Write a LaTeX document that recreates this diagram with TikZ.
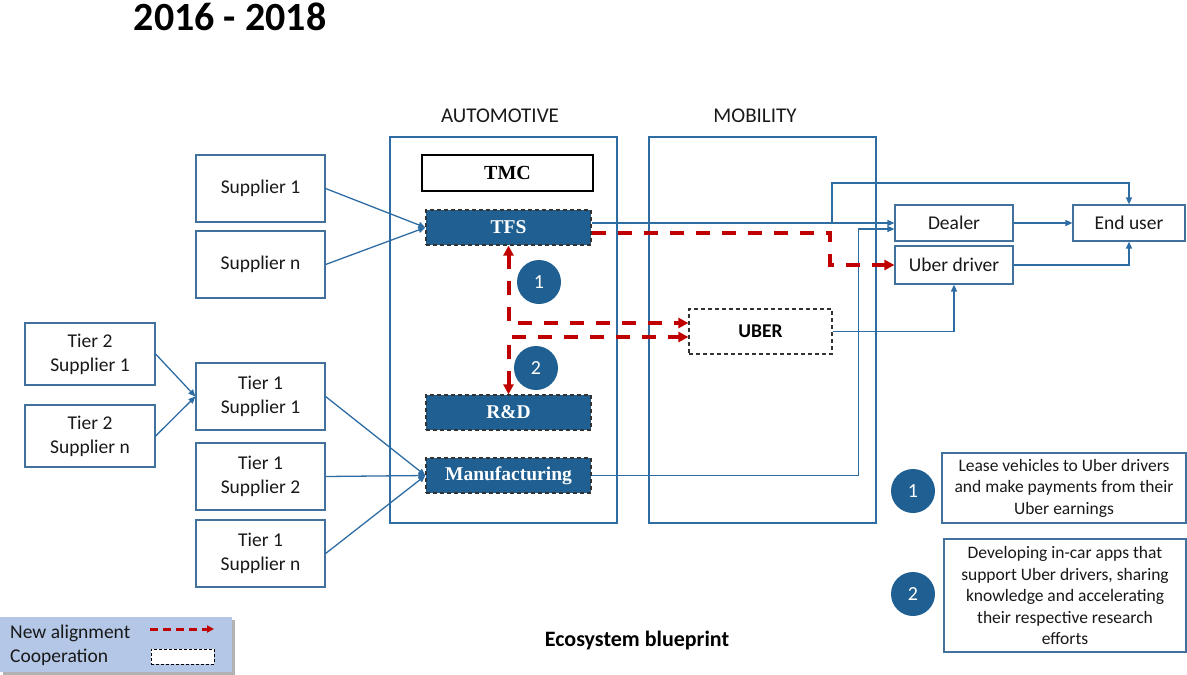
\documentclass[tikz,border=0pt]{standalone}
\usepackage{fontspec}
\setmainfont{Carlito}
\newfontfamily\tnr{Liberation Serif}
\usetikzlibrary{arrows.meta,calc}
\definecolor{lblue}{RGB}{46,108,164}
\definecolor{bblue}{RGB}{65,113,156}
\definecolor{fblue}{RGB}{31,95,145}
\definecolor{rred}{RGB}{192,0,0}
\definecolor{legbg}{RGB}{180,199,231}
\begin{document}
\begin{tikzpicture}[x=1pt,y=-1pt,
  box/.style={draw=bblue, line width=1.2pt, fill=white, inner sep=0pt, align=center,
    font=\fontsize{19.5}{24}\selectfont, text=black!90},
  notebox/.style={draw=bblue, line width=1.2pt, fill=white, inner sep=0pt, align=center,
    font=\fontsize{17.5}{21.5}\selectfont, text=black!90},
  fbox/.style={draw=black!80, dash pattern=on 4pt off 3pt, fill=fblue, line width=1.2pt,
    text=white, font=\tnr\bfseries\fontsize{19.5}{22}\selectfont, inner sep=0pt},
  area/.style={draw=lblue, line width=1.2pt, inner sep=0pt},
  conn/.style={draw=lblue, line width=1.3pt, -{Triangle[length=7pt,width=6pt]}},
  newal/.style={draw=rred, line width=4pt, dash pattern=on 14pt off 12pt,
    -{Triangle[length=10pt,width=10pt]}},
  newal2/.style={draw=rred, line width=4pt, dash pattern=on 14pt off 12pt,
    {Triangle[length=10pt,width=10pt]}-{Triangle[length=10pt,width=10pt]}},
  circ/.style={circle, fill=fblue, minimum size=44pt, inner sep=0pt, text=white,
    font=\fontsize{20}{20}\selectfont},
  lbl/.style={font=\fontsize{21}{24}\selectfont, text=black!90, inner sep=0pt}
]
\useasboundingbox (0,0) rectangle (1187,675);

% title
\node[font=\bfseries\fontsize{40}{40}\selectfont, inner sep=0pt] (title) at (230,17) {2016 - 2018};

% areas
\node[lbl] (autolbl) at (500,116) {AUTOMOTIVE};
\node[lbl] (moblbl) at (755,116) {MOBILITY};
\node[area, minimum width=227pt, minimum height=386pt] (auto) at (503.5,330) {};
\node[area, minimum width=227pt, minimum height=386pt] (mob) at (762.5,330) {};

% suppliers
\node[box, minimum width=129pt, minimum height=67pt] (s1) at (260.5,188.5) {Supplier 1};
\node[box, minimum width=129pt, minimum height=67pt] (sn) at (260.5,264.5) {Supplier n};
\node[box, minimum width=130pt, minimum height=62pt] (t2s1) at (90,354) {Tier 2\\Supplier 1};
\node[box, minimum width=130pt, minimum height=62pt] (t2sn) at (90,436) {Tier 2\\Supplier n};
\node[box, minimum width=129pt, minimum height=67pt] (t1s1) at (260.5,396.5) {Tier 1\\Supplier 1};
\node[box, minimum width=129pt, minimum height=67pt] (t1s2) at (260.5,476.5) {Tier 1\\Supplier 2};
\node[box, minimum width=129pt, minimum height=67pt] (t1sn) at (260.5,553.5) {Tier 1\\Supplier n};

% automotive
\node[draw=black, line width=1.2pt, fill=white, minimum width=171pt, minimum height=36pt, inner sep=0pt,
  font=\tnr\bfseries\fontsize{20}{22}\selectfont] (tmc) at (507.5,173) {TMC};
\node[fbox, minimum width=165pt, minimum height=35pt] (tfs) at (508.5,227.5) {TFS};
\node[fbox, minimum width=165pt, minimum height=35pt] (rd) at (508.5,412.5) {R\&D};
\node[fbox, minimum width=165pt, minimum height=35pt] (mfg) at (508.5,475.5) {Manufacturing};

% mobility
\node[draw=black!80, dash pattern=on 4pt off 3pt, line width=1.2pt, fill=white, minimum width=143pt,
  minimum height=45pt, inner sep=0pt, font=\bfseries\fontsize{19.5}{22}\selectfont] (uber) at (760.5,331.5) {UBER};

% right side
\node[box, minimum width=118pt, minimum height=36pt] (dealer) at (954,223) {Dealer};
\node[box, minimum width=118pt, minimum height=38pt] (udriver) at (954,265) {Uber driver};
\node[box, minimum width=112pt, minimum height=36pt] (enduser) at (1129,223) {End user};

% circles
\node[circ] (c1) at (539,282) {1};
\node[circ] (c2) at (536,368) {2};
\node[circ] (lc1) at (913,491) {1};
\node[circ] (lc2) at (913,594) {2};

% notes
\node[notebox, minimum width=244pt, minimum height=70pt] (n1) at (1064,488)
  {Lease vehicles to Uber drivers\\and make payments from their\\Uber earnings};
\node[notebox, minimum width=242pt, minimum height=113pt] (n2) at (1065,595.5)
  {Developing in-car apps that\\support Uber drivers, sharing\\knowledge and accelerating\\their respective research\\efforts};

\node[font=\bfseries\fontsize{22}{24}\selectfont, inner sep=0pt] (eco) at (637,641) {Ecosystem blueprint};

% connectors
\draw[conn] (s1.east) -- (tfs.west);
\draw[conn] (sn.east) -- (tfs.west);
\draw[conn] (t2s1.east) -- (t1s1.west);
\draw[conn] (t2sn.east) -- (t1s1.west);
\draw[conn] (t1s1.east) -- (mfg.west);
\draw[conn] (t1s2.east) -- (mfg.west);
\draw[conn] (t1sn.east) -- (mfg.west);

\coordinate (br) at (832,223);
\draw[conn] (tfs.east |- dealer.west) -- (dealer.west);
\draw[conn] (br) -- (832,183) -| (enduser.north);
\draw[conn] (mfg.east) -| ($(dealer.west)+(-36,6)$) -- ($(dealer.west)+(0,6)$);
\draw[conn] (dealer.east) -- (enduser.west);
\draw[conn] (udriver.east) -| (enduser.south);
\draw[conn] (uber.east) -| (udriver.south);

% new alignment
\draw[newal] ($(tfs.east)+(0,5.5)$) -| ($(udriver.west)+(-64,0)$) -- (udriver.west);
\draw[newal2] (tfs.south) |- ($(uber.west)+(0,-8.5)$);
\draw[newal2] (rd.north) |- ($(uber.west)+(0,5.5)$);

% legend
\fill[black!30] (3,620) rectangle (235,675);
\node[fill=legbg, minimum width=232pt, minimum height=55pt, inner sep=0pt] (leg) at (116,644.5) {};
\node[anchor=west, inner sep=0pt, font=\fontsize{19.5}{22}\selectfont, text=black!90] (lnew) at (10,633) {New alignment};
\node[anchor=west, inner sep=0pt, font=\fontsize{19.5}{22}\selectfont, text=black!90] (lcoop) at (10,657) {Cooperation};
\coordinate (la1) at (150,629);
\coordinate (la2) at (214,629);
\draw[draw=rred, line width=3pt, dash pattern=on 8pt off 5pt, -{Triangle[length=7pt,width=7pt]}] (la1) -- (la2);
\node[draw=black, dash pattern=on 3pt off 2pt, line width=1pt, fill=white, minimum width=63pt,
  minimum height=15pt, inner sep=0pt] (lbox) at (182.5,656.5) {};
\end{tikzpicture}
\end{document}
